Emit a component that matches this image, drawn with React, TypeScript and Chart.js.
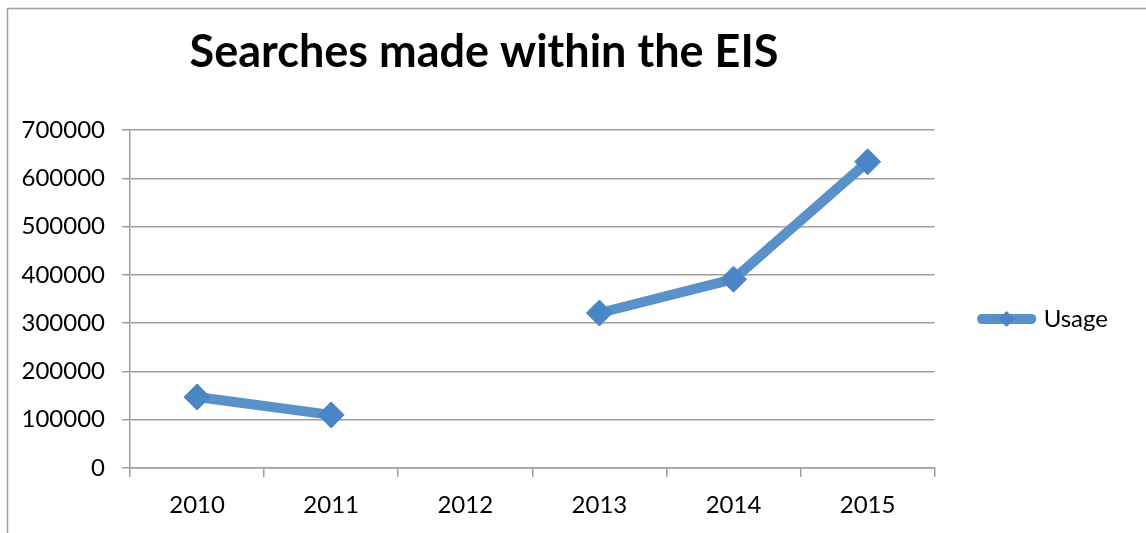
import React, { useEffect, useRef } from 'react';
import { Chart, registerables } from 'chart.js';

Chart.register(...registerables);

const chartTitle = 'Searches made within the EIS';
const categories = ['2010', '2011', '2012', '2013', '2014', '2015'];
const seriesLabel = 'Usage';
const usage: (number | null)[] = [147000, 110000, null, 321000, 391000, 634000];
const yMin = 0;
const yMax = 700000;
const yStep = 100000;

const W = 1146;
const H = 533;
const LINE = '#5b91c9';
const MARK = '#4a86c5';
const GRID = '#9f9f9f';
const FONT = 'Lato, "Open Sans", sans-serif';
const TICK_SIZE = 24;

const chromePlugin = {
  id: 'chrome',
  beforeDraw(chart: any) {
    const ctx = chart.ctx;
    ctx.save();
    ctx.fillStyle = '#ffffff';
    ctx.fillRect(0, 0, W, H);
    ctx.strokeStyle = '#a0a0a0';
    ctx.lineWidth = 1.5;
    ctx.beginPath();
    ctx.moveTo(7.5, H);
    ctx.lineTo(7.5, 8.5);
    ctx.lineTo(W, 8.5);
    ctx.stroke();
    ctx.restore();
  },
  afterLayout(chart: any) {
    const lg = chart.legend;
    if (lg) {
      lg.top = 130;
      lg.bottom = 508;
    }
  },
  afterDraw(chart: any) {
    const ctx = chart.ctx;
    ctx.save();
    ctx.fillStyle = '#000000';
    ctx.font = `bold 45px ${FONT}`;
    ctx.textAlign = 'center';
    ctx.textBaseline = 'alphabetic';
    ctx.fillText(chartTitle, 484, 67);
    const lg = chart.legend;
    if (lg && lg.legendHitBoxes && lg.legendHitBoxes[0]) {
      const hb = lg.legendHitBoxes[0];
      const bw = lg.options.labels.boxWidth;
      const cx = hb.left + bw / 2;
      const cy = hb.top + TICK_SIZE / 2;
      const r = 8;
      ctx.fillStyle = MARK;
      ctx.beginPath();
      ctx.moveTo(cx - r, cy);
      ctx.lineTo(cx, cy - r);
      ctx.lineTo(cx + r, cy);
      ctx.lineTo(cx, cy + r);
      ctx.closePath();
      ctx.fill();
    }
    ctx.restore();
  },
};

export default function App() {
  const ref = useRef<HTMLCanvasElement | null>(null);

  useEffect(() => {
    const canvas = ref.current;
    if (!canvas) return;
    const chart = new Chart(canvas, {
      type: 'line',
      data: {
        labels: categories,
        datasets: [
          {
            label: seriesLabel,
            data: usage,
            borderColor: LINE,
            backgroundColor: LINE,
            borderWidth: 10,
            borderJoinStyle: 'round',
            borderCapStyle: 'round',
            pointStyle: 'rectRot',
            pointRadius: 13,
            pointBackgroundColor: MARK,
            pointBorderColor: MARK,
            pointBorderWidth: 1,
            spanGaps: false,
            tension: 0,
          },
        ],
      },
      plugins: [chromePlugin],
      options: {
        responsive: false,
        animation: false,
        events: [],
        layout: { padding: { top: 130, left: 0, right: 28, bottom: 0 } },
        plugins: {
          title: { display: false },
          tooltip: { enabled: false },
          legend: {
            display: true,
            position: 'right',
            labels: {
              boxWidth: 50,
              boxHeight: 1,
              padding: 47,
              color: '#000000',
              font: { family: FONT, size: TICK_SIZE },
              generateLabels: () => [
                {
                  text: seriesLabel,
                  fillStyle: LINE,
                  strokeStyle: LINE,
                  lineWidth: 9,
                  lineJoin: 'round',
                  hidden: false,
                  datasetIndex: 0,
                  fontColor: '#000000',
                },
              ],
            },
          },
        },
        scales: {
          x: {
            type: 'category',
            offset: true,
            afterFit(scale: any) {
              scale.height = 65;
            },
            grid: {
              offset: true,
              drawOnChartArea: false,
              drawTicks: true,
              tickLength: 9,
              color: GRID,
              lineWidth: 1.5,
            },
            border: { display: true, color: GRID, width: 1.5 },
            ticks: {
              color: '#000000',
              font: { family: FONT, size: TICK_SIZE },
              padding: 14,
              maxRotation: 0,
              autoSkip: false,
            },
          },
          y: {
            min: yMin,
            max: yMax,
            afterFit(scale: any) {
              scale.width = 130;
            },
            grid: {
              color: GRID,
              lineWidth: 1.5,
              drawTicks: true,
              tickLength: 8,
            },
            border: { display: true, color: GRID, width: 1.5 },
            ticks: {
              stepSize: yStep,
              color: '#000000',
              font: { family: FONT, size: TICK_SIZE },
              padding: 17,
              callback: (v: any) => String(v),
            },
          },
        },
      },
    });
    return () => chart.destroy();
  }, []);

  return (
    <div style={{ position: 'fixed', left: 0, top: 0, width: W, height: H, background: '#fff' }}>
      <canvas ref={ref} width={W} height={H} style={{ display: 'block', width: W, height: H }} />
    </div>
  );
}
